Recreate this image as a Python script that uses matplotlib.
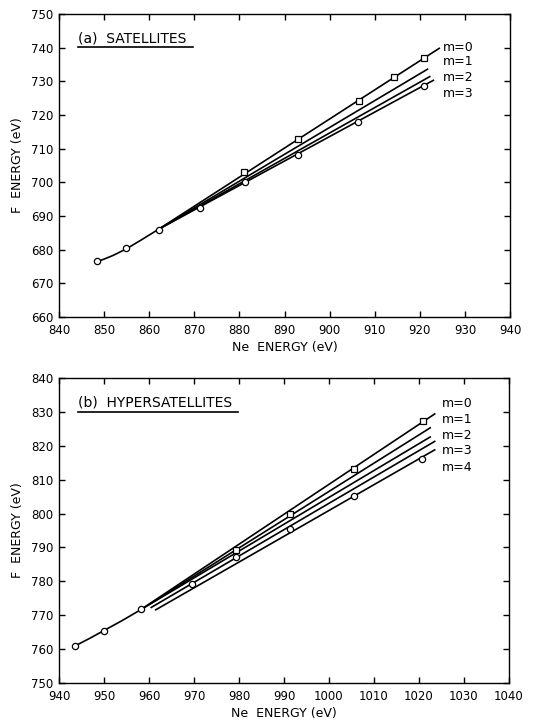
import matplotlib.pyplot as plt

# (a) satellites: measured points
sat_circ_x = [848.5, 854.9, 862.2, 871.2, 881.3, 892.9, 906.3, 920.9]
sat_circ_y = [676.5, 680.4, 685.7, 692.3, 700.0, 708.2, 718.0, 728.7]
sat_sq_x = [881.1, 893.0, 906.5, 914.3, 921.0]
sat_sq_y = [703.2, 712.8, 724.2, 731.2, 737.0]

# (a) common low-energy trunk, then one branch per m
sat_trunk_x = [848.5, 850.0, 852.0, 855.0, 858.0, 862.0]
sat_trunk_y = [676.5, 677.2, 678.3, 680.3, 682.7, 686.0]
sat_branch_x = [[862.0, 924.3], [862.0, 921.7], [862.0, 922.2], [862.0, 923.0]]
sat_branch_y = [[686.0, 739.8], [686.0, 733.6], [686.0, 731.4], [686.0, 730.3]]
sat_m_labels = ["m=0", "m=1", "m=2", "m=3"]

# (b) hypersatellites: measured points
hyp_circ_x = [943.5, 950.0, 958.3, 969.6, 979.3, 991.3, 1005.5, 1020.7]
hyp_circ_y = [760.9, 765.3, 771.7, 779.2, 787.3, 795.4, 805.3, 816.2]
hyp_sq_x = [979.3, 991.3, 1005.5, 1020.9]
hyp_sq_y = [789.2, 799.8, 813.1, 827.3]

hyp_trunk_x = [943.5, 947.0, 950.0, 954.0, 958.0]
hyp_trunk_y = [760.9, 763.3, 765.5, 768.4, 771.5]
hyp_branch_x = [[958.0, 1023.5], [958.0, 1022.5], [958.0, 1022.5],
                [960.5, 1023.5], [961.5, 1023.5]]
hyp_branch_y = [[771.5, 829.4], [771.5, 825.3], [771.5, 822.6],
                [772.3, 821.3], [771.6, 818.8]]
hyp_m_labels = ["m=0", "m=1", "m=2", "m=3", "m=4"]

sat_xticks = list(range(840, 941, 10))
sat_yticks = list(range(660, 751, 10))
hyp_xticks = list(range(940, 1041, 10))
hyp_yticks = list(range(750, 841, 10))

plt.rcParams['font.family'] = 'DejaVu Sans'

fig = plt.figure(figsize=(5.35, 7.21), dpi=100)
ax1 = fig.add_axes([0.1103, 0.5603, 0.843, 0.4203])
ax2 = fig.add_axes([0.1103, 0.0527, 0.841, 0.4230])


def draw_panel(ax, trunk_x, trunk_y, bx, by, cx, cy, sx, sy,
               xticks, yticks, title, title_end, m_labels, m_ys):
    ax.plot(trunk_x, trunk_y, color='black', lw=1.2, zorder=2)
    for xs, ys in zip(bx, by):
        ax.plot(xs, ys, color='black', lw=1.2, zorder=2)
    ax.plot(cx, cy, 'o', ms=4.5, mfc='white', mec='black', mew=0.9,
            ls='none', zorder=3)
    ax.plot(sx, sy, 's', ms=4, mfc='white', mec='black', mew=0.9,
            ls='none', zorder=3)

    ax.set_xlim(xticks[0], xticks[-1])
    ax.set_ylim(yticks[0], yticks[-1])
    ax.set_xticks(xticks)
    ax.set_yticks(yticks)
    ax.tick_params(direction='in', top=True, right=True, length=4,
                   width=1, labelsize=8.5)
    ax.tick_params(axis='y', pad=4)
    ax.tick_params(axis='x', pad=5)
    for sp in ax.spines.values():
        sp.set_linewidth(1)

    ax.set_xlabel('Ne  ENERGY (eV)', fontsize=9, labelpad=3)
    ax.set_ylabel('F  ENERGY (eV)', fontsize=9, labelpad=5)

    # panel caption with underline
    ax.text(0.042, 0.92, title, transform=ax.transAxes, fontsize=10,
            ha='left', va='center')
    ax.plot([0.042, title_end], [0.89, 0.89], transform=ax.transAxes,
            color='black', lw=1.2, clip_on=False)

    for lab, yy in zip(m_labels, m_ys):
        ax.text(0.851, yy, lab, transform=ax.transAxes, fontsize=9,
                ha='left', va='center')


draw_panel(ax1, sat_trunk_x, sat_trunk_y, sat_branch_x, sat_branch_y,
           sat_circ_x, sat_circ_y, sat_sq_x, sat_sq_y,
           sat_xticks, sat_yticks, '(a)  SATELLITES', 0.297,
           sat_m_labels, [0.888, 0.842, 0.789, 0.736])
draw_panel(ax2, hyp_trunk_x, hyp_trunk_y, hyp_branch_x, hyp_branch_y,
           hyp_circ_x, hyp_circ_y, hyp_sq_x, hyp_sq_y,
           hyp_xticks, hyp_yticks, '(b)  HYPERSATELLITES', 0.398,
           hyp_m_labels, [0.917, 0.865, 0.813, 0.761, 0.708])

fig.savefig('out.png', dpi=100)
